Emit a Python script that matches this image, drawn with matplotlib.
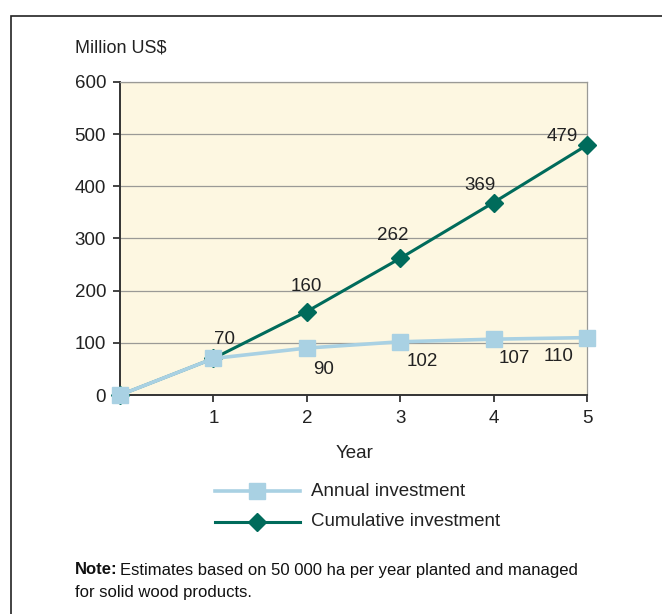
import matplotlib
matplotlib.use("Agg")
import matplotlib.pyplot as plt
from matplotlib.lines import Line2D
from matplotlib.patches import Rectangle

plt.rcParams['font.family'] = ['Liberation Sans', 'DejaVu Sans']

years = [0, 1, 2, 3, 4, 5]
annual = [0, 70, 90, 102, 107, 110]
cumulative = [0, 70, 160, 262, 369, 479]
x_ticks = [1, 2, 3, 4, 5]
y_ticks = [0, 100, 200, 300, 400, 500, 600]

annual_color = '#A9D1E3'
cumul_color = '#006B5B'
bg_color = '#FDF7E1'
grid_color = '#9A9A96'
text_color = '#222222'
fs = 13.5

W, H = 662, 614
fig = plt.figure(figsize=(W / 100, H / 100), dpi=100)

# outer frame
fig.patches.append(Rectangle((11 / W, -0.01), 1.2, (H - 16) / H + 0.01, transform=fig.transFigure,
                             fill=False, edgecolor='#222222', linewidth=1.2))

ax = fig.add_axes([120 / W, 1 - 395 / H, (587 - 120) / W, (395 - 82) / H])
ax.set_facecolor(bg_color)
ax.set_xlim(0, 5)
ax.set_ylim(0, 600)

for yv in y_ticks[1:]:
    ax.axhline(yv, color=grid_color, linewidth=0.9, zorder=1)

ax.plot(years, cumulative, color=cumul_color, linewidth=2.2, marker='D', markersize=9,
        markeredgecolor=cumul_color, zorder=3, clip_on=False)
ax.plot(years, annual, color=annual_color, linewidth=2.6, marker='s', markersize=11,
        markeredgecolor=annual_color, zorder=4, clip_on=False)

ax.set_xticks(x_ticks)
ax.set_yticks(y_ticks)
ax.tick_params(axis='both', labelsize=fs, colors=text_color, length=5, width=1.2)
ax.tick_params(axis='x', pad=6)
ax.tick_params(axis='y', pad=5)
for side in ['left', 'bottom']:
    ax.spines[side].set_color('#333333')
    ax.spines[side].set_linewidth(1.4)
for side in ['right', 'top']:
    ax.spines[side].set_color(grid_color)
    ax.spines[side].set_linewidth(0.9)

# value labels (offsets in pixels from the data point)
px = 600 / 313
ann_offsets = {1: (0.12, 19), 2: (0.18, -21), 3: (0.24, -20), 4: (0.22, -19), 5: (-0.3, -19)}
for i, off in ann_offsets.items():
    ax.text(years[i] + off[0], annual[i] + off[1] * px, str(annual[i]), fontsize=fs,
            ha='center', va='center', color=text_color)
cum_offsets = {2: (0.0, 25), 3: (-0.08, 23), 4: (-0.15, 17), 5: (-0.26, 9)}
for i, off in cum_offsets.items():
    ax.text(years[i] + off[0], cumulative[i] + off[1] * px, str(cumulative[i]), fontsize=fs,
            ha='center', va='center', color=text_color)

fig.text(75 / W, 1 - 48 / H, 'Million US$', fontsize=13, ha='left', va='center', color=text_color)
fig.text(355 / W, 1 - 453 / H, 'Year', fontsize=fs, ha='center', va='center', color=text_color)

# legend
leg_ax = fig.add_axes([0, 0, 1, 1], facecolor='none')
leg_ax.set_xlim(0, W)
leg_ax.set_ylim(H, 0)
leg_ax.axis('off')
leg_ax.add_line(Line2D([215, 300], [491, 491], color=annual_color, linewidth=2.6))
leg_ax.plot([257], [491], marker='s', markersize=11, color=annual_color)
leg_ax.add_line(Line2D([215, 300], [522, 522], color=cumul_color, linewidth=2.2))
leg_ax.plot([257], [522], marker='D', markersize=9, color=cumul_color)
leg_ax.text(311, 491, 'Annual investment', fontsize=fs, ha='left', va='center', color=text_color)
leg_ax.text(311, 522, 'Cumulative investment', fontsize=fs, ha='left', va='center', color=text_color)

note_fs = 12.0
note = leg_ax.text(75, 570, 'Note:', fontsize=note_fs, fontweight='bold', ha='left', va='center',
                   color='#111111')
leg_ax.annotate('Estimates based on 50 000 ha per year planted and managed', xy=(1, 0.5),
                xycoords=note, xytext=(2, 0), textcoords='offset points', fontsize=note_fs,
                ha='left', va='center', color='#111111')
leg_ax.text(75, 592, 'for solid wood products.', fontsize=note_fs, ha='left', va='center',
            color='#111111')

fig.savefig('out.png', dpi=100)
